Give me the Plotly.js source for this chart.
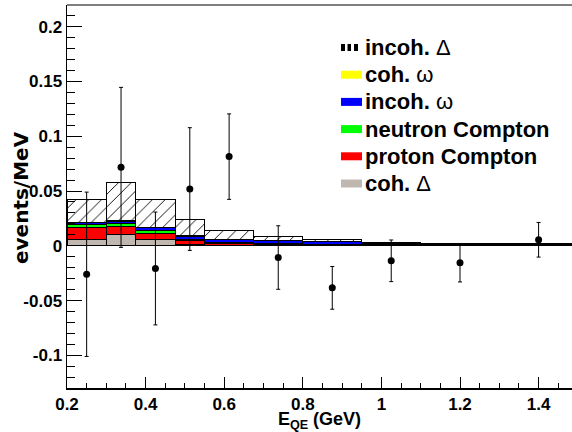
<!DOCTYPE html>
<html>
<head>
<meta charset="utf-8">
<script src="https://cdn.plot.ly/plotly-3.0.1.min.js"></script>
<style>
html,body{margin:0;padding:0;background:#fff;}
#chart{width:572px;height:432px;}
</style>
</head>
<body>
<div id="chart"></div>
<script>
// Bin edges (GeV)
const binEdges = [0.2, 0.3, 0.375, 0.475, 0.55, 0.675, 0.8, 0.95, 1.1, 1.3, 1.5];

// Stacked components (events/MeV), bottom to top
const cohDelta      = [0.0055, 0.0100, 0.0055, 0.0008, 0.0005, 0.0003, 0.0002, 0.0001, 0.0001, 0.0000];
const protonCompton = [0.0112, 0.0080, 0.0061, 0.0038, 0.0015, 0.0012, 0.0008, 0.0005, 0.0003, 0.0006];
const neutronCompton= [0.0023, 0.0020, 0.0021, 0.0014, 0.0013, 0.0007, 0.0005, 0.0003, 0.0002, 0.0000];
const incohOmega    = [0.0020, 0.0025, 0.0028, 0.0025, 0.0025, 0.0028, 0.0025, 0.0016, 0.0010, 0.0006];
const cohOmega      = [0.0003, 0.0003, 0.0003, 0.0010, 0.0003, 0.0002, 0.0002, 0.0002, 0.0001, 0.0000];
const incohDelta    = [0.0207, 0.0348, 0.0259, 0.0149, 0.0082, 0.0034, 0.0018, 0.0005, 0.0006, 0.0006];

// Data points
const dataX   = [0.25, 0.3375, 0.425, 0.5125, 0.6125, 0.7375, 0.875, 1.025, 1.2, 1.4];
const dataY   = [-0.026, 0.0716, -0.0207, 0.0518, 0.0814, -0.0107, -0.0384, -0.0137, -0.0155, 0.0055];
const dataErr = [0.075, 0.073, 0.0515, 0.056, 0.039, 0.029, 0.0195, 0.019, 0.0175, 0.0158];

// Axis ticks
const yTickVals = [-0.1, -0.05, 0, 0.05, 0.1, 0.15, 0.2];
const yTickText = ['-0.1', '-0.05', '0', '0.05', '0.1', '0.15', '0.2'];
const xTickVals = [0.2, 0.4, 0.6, 0.8, 1.0, 1.2, 1.4];
const xTickText = ['0.2', '0.4', '0.6', '0.8', '1', '1.2', '1.4'];

// Legend entries (top to bottom)
const legendLabels = ['incoh. Δ', 'coh. ω', 'incoh. ω', 'neutron Compton', 'proton Compton', 'coh. Δ'];
const legendColors = ['hatch', '#ffff00', '#0000ff', '#00ff00', '#ff0000', '#c0b8b0'];

const centers = binEdges.slice(0, -1).map((e, i) => (e + binEdges[i + 1]) / 2);
const widths  = binEdges.slice(0, -1).map((e, i) => binEdges[i + 1] - e);

function barTrace(name, vals, color, pattern) {
  const t = {
    type: 'bar', name: name, x: centers, y: vals, width: widths,
    marker: {color: color, line: {color: '#000', width: 1}},
    hoverinfo: 'skip', showlegend: false
  };
  if (pattern) t.marker.pattern = pattern;
  return t;
}

const traces = [
  barTrace('coh. Δ', cohDelta, '#c0b8b0'),
  barTrace('proton Compton', protonCompton, '#ff0000'),
  barTrace('neutron Compton', neutronCompton, '#00ff00'),
  barTrace('incoh. ω', incohOmega, '#0000ff'),
  barTrace('coh. ω', cohOmega, '#ffff00'),
  barTrace('incoh. Δ', incohDelta, '#ffffff',
           {shape: '/', fgcolor: '#000', bgcolor: '#ffffff', size: 9, solidity: 0.1}),
  {
    type: 'scatter', mode: 'markers', x: dataX, y: dataY, showlegend: false,
    marker: {color: '#000', size: 7, symbol: 'circle'},
    error_y: {type: 'data', array: dataErr, visible: true, color: '#000', thickness: 1, width: 2},
    hoverinfo: 'skip'
  }
];

// plot-area geometry (pixels) for the hand-built legend
const W = 572, H = 432, mL = 67, mR = 0, mT = 5, mB = 44;
const pw = W - mL - mR, ph = H - mT - mB;
const px2x = p => (p - mL) / pw;
const px2y = p => (H - mB - p) / ph;

const fontFam = '"Liberation Sans", Arial, Helvetica, sans-serif';
const shapes = [], annotations = [];
const rowTop = 47.5, rowGap = 27.2;
legendLabels.forEach((lab, i) => {
  const cy = rowTop + i * rowGap;
  if (legendColors[i] === 'hatch') {
    [[341, 345], [347.5, 351], [354, 358]].forEach(([a, b]) => {
      shapes.push({type: 'rect', xref: 'paper', yref: 'paper',
        x0: px2x(a), x1: px2x(b), y0: px2y(cy + 3.5), y1: px2y(cy - 3.5),
        fillcolor: '#000', line: {width: 0}});
    });
  } else {
    shapes.push({type: 'rect', xref: 'paper', yref: 'paper',
      x0: px2x(341), x1: px2x(362), y0: px2y(cy + 4), y1: px2y(cy - 4),
      fillcolor: legendColors[i], line: {width: 0}});
  }
  const txt = lab.replace(/([Δω])/g, '<span style="font-weight:normal">$1</span>');
  annotations.push({xref: 'paper', yref: 'paper', x: px2x(363), y: px2y(cy),
    xanchor: 'left', yanchor: 'middle', showarrow: false, text: txt,
    font: {family: fontFam, size: 22, color: '#000', weight: 'bold'}});
});

// top frame line (greyish in the reference)
shapes.push({type: 'line', xref: 'paper', yref: 'paper', x0: 0, x1: 1, y0: 1, y1: 1,
  line: {color: '#555', width: 1.5}});

// y-axis title
annotations.push({xref: 'paper', yref: 'paper', x: px2x(21), y: px2y(198),
  xanchor: 'center', yanchor: 'middle', textangle: -90, showarrow: false,
  text: 'events/MeV', font: {family: '"DejaVu Sans", sans-serif', size: 20, color: '#000', weight: 'bold'}});

const layout = {
  width: W, height: H,
  margin: {l: mL, r: mR, t: mT, b: mB, pad: 0},
  paper_bgcolor: '#fff', plot_bgcolor: '#fff',
  barmode: 'stack',
  bargap: 0,
  showlegend: false,
  shapes: shapes,
  annotations: annotations,
  xaxis: {
    range: [0.2, 1.485],
    tickvals: xTickVals, ticktext: xTickText,
    ticks: 'inside', ticklen: 11, tickwidth: 1, tickcolor: '#000',
    minor: {dtick: 0.05, ticks: 'inside', ticklen: 5, tickwidth: 1, tickcolor: '#000'},
    showgrid: false, zeroline: false,
    showline: true, linecolor: '#000', linewidth: 1.5,
    tickfont: {family: fontFam, size: 17, color: '#000', weight: 'bold'},
    title: {text: 'E<sub>QE</sub> (GeV)', standoff: 3,
            font: {family: fontFam, size: 18, color: '#000', weight: 'bold'}}
  },
  yaxis: {
    range: [-0.1298, 0.2198],
    tickvals: yTickVals, ticktext: yTickText,
    ticks: 'inside', ticklen: 15, tickwidth: 1, tickcolor: '#000',
    minor: {dtick: 0.01, ticks: 'inside', ticklen: 8, tickwidth: 1, tickcolor: '#000'},
    showgrid: false, zeroline: false,
    showline: true, linecolor: '#000', linewidth: 1.5,
    tickfont: {family: fontFam, size: 17, color: '#000', weight: 'bold'}
  }
};

Plotly.newPlot('chart', traces, layout, {staticPlot: true, displayModeBar: false});
</script>
</body>
</html>
